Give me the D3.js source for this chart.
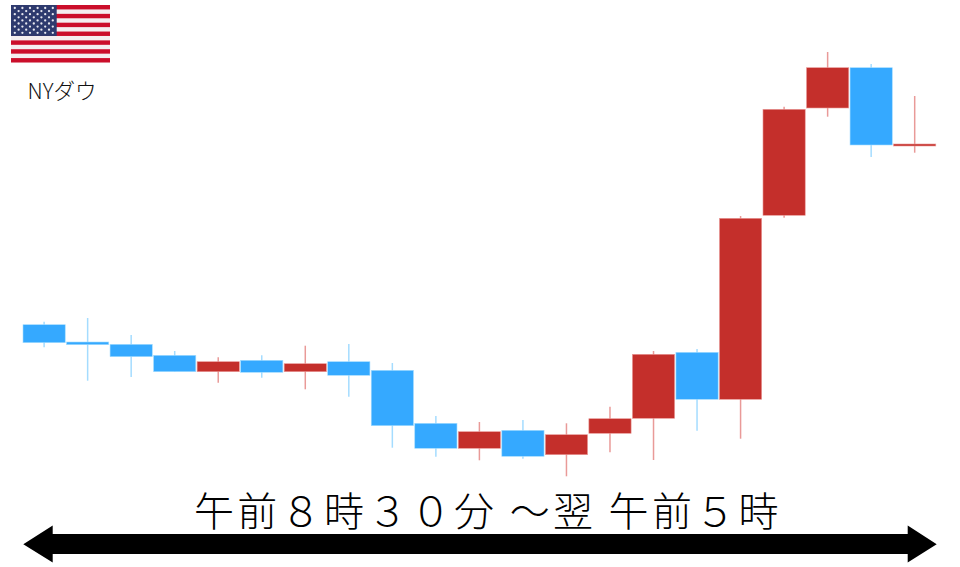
<!DOCTYPE html>
<html>
<head>
<meta charset="utf-8">
<style>
  html, body { margin: 0; padding: 0; background: #fff; }
  svg { display: block; }
</style>
<script src="https://cdn.jsdelivr.net/npm/d3@7"></script>
</head>
<body>
<div id="graphic"></div>
<script>
(function() {
  var width = 960, height = 567;

  /*** DATA: no price axis in the picture, so values are heights read off it ***/
  var sessions = ["1", "2", "3", "4", "5", "6", "7", "8", "9", "10", "11", "12", "13", "14", "15", "16", "17", "18", "19", "20", "21"];
  var opens  = [242.3, 225, 222.7, 211.7, 195.3, 206.7, 195.3, 205.3, 196.7, 143.7, 118.7, 136.7, 112.3, 133.7, 148.7, 214.7, 167.7, 351.7, 459, 499.3, 421];
  var closes = [224.3, 222.3, 210.3, 195.3, 205.3, 194.7, 203.3, 191.7, 141.3, 118.7, 135.3, 110.7, 132.3, 148.3, 212.7, 167.7, 348.7, 457.7, 499.3, 422, 423];
  var highs  = [245.3, 249, 232, 216, 209.7, 211.7, 221.3, 223, 204, 151, 145, 147, 143.7, 160.3, 216, 218, 351, 460.3, 515, 503, 471];
  var lows   = [219.7, 186.3, 190, 195.3, 184.3, 189.3, 177.7, 170.3, 119.3, 110.3, 106.7, 108.3, 90.7, 114.7, 107, 136.3, 128.3, 349.3, 450.3, 410, 414.3];
  var title = "NYダウ";
  var rangeLabel = ["午前８時３０分", "～翌", "午前５時"];

  var upColor = "#c42f2b";
  var downColor = "#35a9ff";
  var upWick = "#e99a98";
  var downWick = "#a4dcff";

  var svg = d3.select("#graphic")
    .append("svg")
    .attr("width", width)
    .attr("height", height);

  /*** SCALES ***/
  var x = d3.scaleBand().domain(sessions).range([23, 935.8]).paddingInner(0.03);
  var y = d3.scaleLinear().domain([0, height]).range([height, 0]);

  var candles = sessions.map(function(d, i) {
    return { session: d, open: opens[i], close: closes[i], high: highs[i], low: lows[i] };
  });

  /*** WICKS ***/
  svg.selectAll(".wick")
    .data(candles).enter().append("line")
    .attr("class", "wick")
    .attr("x1", function(d) { return x(d.session) + x.bandwidth() / 2; })
    .attr("x2", function(d) { return x(d.session) + x.bandwidth() / 2; })
    .attr("y1", function(d) { return y(d.high); })
    .attr("y2", function(d) { return y(d.low); })
    .attr("stroke", function(d) { return d.close > d.open ? upWick : downWick; })
    .attr("stroke-width", 1.5);

  /*** BODIES ***/
  svg.selectAll(".body")
    .data(candles).enter().append("rect")
    .attr("class", "body")
    .attr("x", function(d) { return x(d.session); })
    .attr("y", function(d) { return y(Math.max(d.open, d.close)); })
    .attr("width", x.bandwidth())
    .attr("height", function(d) { return Math.abs(y(d.open) - y(d.close)); })
    .attr("fill", function(d) { return d.close > d.open ? upColor : downColor; })
    .attr("stroke", function(d) { return d.close > d.open ? upWick : downWick; })
    .attr("stroke-width", 0.6);

  /*** FLAG ***/
  var flag = svg.append("g").attr("transform", "translate(11,5)");
  var flagW = 99, flagH = 57.5;
  var stripeH = flagH / 13;
  var cantonW = 45.7, cantonH = stripeH * 7;

  flag.append("rect")
    .attr("width", flagW).attr("height", flagH)
    .attr("fill", "#f4eef0");
  flag.selectAll(".stripe")
    .data(d3.range(0, 13, 2)).enter().append("rect")
    .attr("class", "stripe")
    .attr("y", function(d) { return d * stripeH; })
    .attr("width", flagW)
    .attr("height", stripeH)
    .attr("fill", "#cb0e2b");
  flag.append("rect")
    .attr("width", cantonW).attr("height", cantonH)
    .attr("fill", "#2e3a6e");

  var stars = [];
  d3.range(9).forEach(function(row) {
    var cols = row % 2 == 0 ? 6 : 5;
    d3.range(cols).forEach(function(col) {
      stars.push({ row: row, col: col, odd: row % 2 });
    });
  });
  flag.selectAll(".star")
    .data(stars).enter().append("circle")
    .attr("class", "star")
    .attr("cx", function(d) { return 3.8 + (d.col + d.odd / 2) * 7.6; })
    .attr("cy", function(d) { return 3 + d.row * 3.1; })
    .attr("r", 1.15)
    .attr("fill", "#e8e8f0");

  svg.append("text")
    .attr("x", 62)
    .attr("y", 99)
    .attr("text-anchor", "middle")
    .attr("font-family", "'Noto Sans CJK JP'")
    .attr("font-size", 21.5)
    .attr("font-weight", 300)
    .attr("fill", "#111")
    .text(title);

  /*** DOUBLE ARROW ***/
  var arrow = d3.path();
  arrow.moveTo(23.3, 544.2);
  arrow.lineTo(52.7, 525.5);
  arrow.lineTo(52.7, 534);
  arrow.lineTo(907.7, 534);
  arrow.lineTo(907.7, 525.5);
  arrow.lineTo(936.7, 544.2);
  arrow.lineTo(907.7, 562.5);
  arrow.lineTo(907.7, 554);
  arrow.lineTo(52.7, 554);
  arrow.lineTo(52.7, 562.5);
  arrow.closePath();
  svg.append("path").attr("d", arrow.toString()).attr("fill", "#000");

  /*** RANGE LABEL ***/
  svg.append("text")
    .attr("x", 194)
    .attr("y", 526)
    .attr("font-family", "'Noto Sans CJK JP'")
    .attr("font-size", 40)
    .attr("font-weight", 300)
    .attr("letter-spacing", 3.35)
    .attr("fill", "#000")
    .style("white-space", "pre")
    .text(rangeLabel.join(" "));
})();
</script>
</body>
</html>
